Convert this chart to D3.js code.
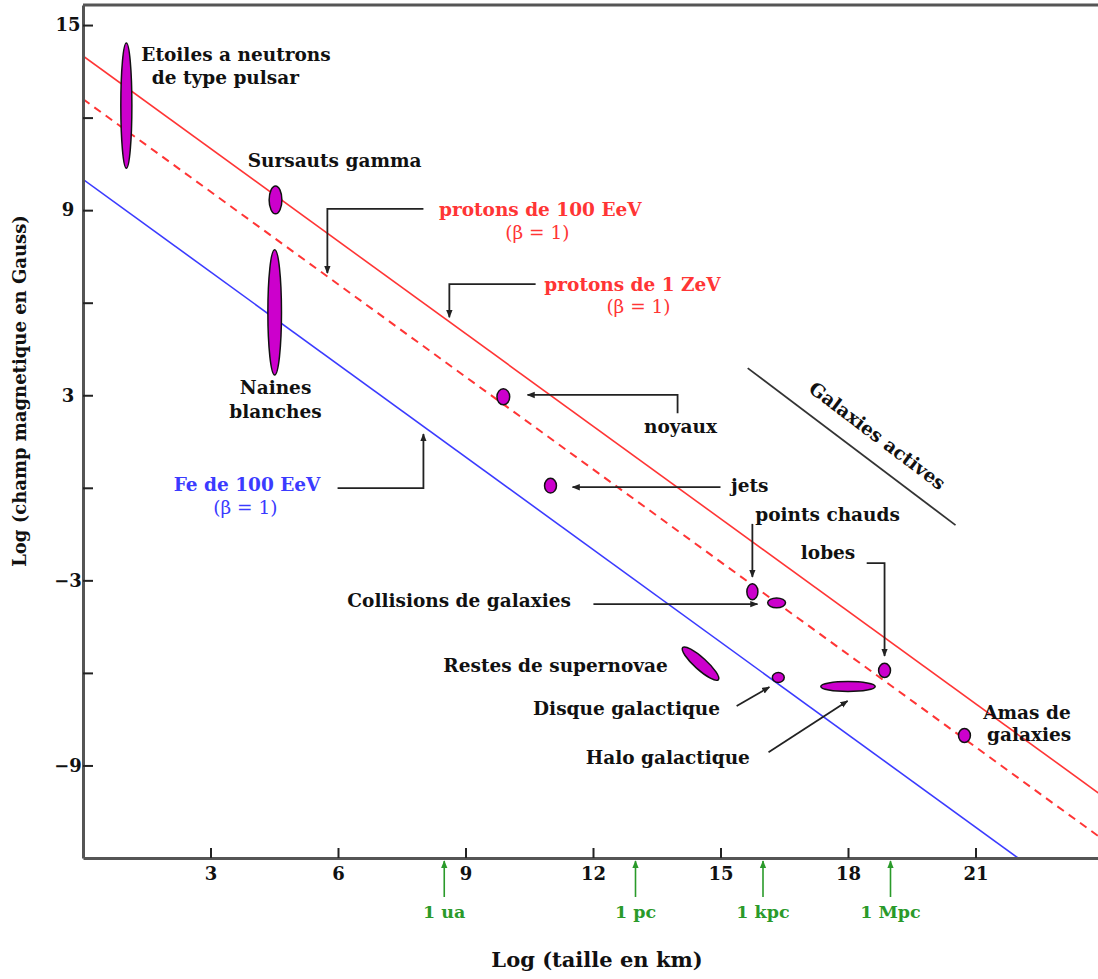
<!DOCTYPE html>
<html>
<head>
<meta charset="utf-8">
<script src="https://cdn.jsdelivr.net/npm/d3@7"></script>
<style>
body { margin: 0; background: #fff; }
text { font-family: "DejaVu Serif", serif; }
</style>
</head>
<body>
<svg id="chart" width="1098" height="979"></svg>
<script>
// Hillas plot : log(taille en km) vs log(champ en Gauss)

var xTicks = [3, 6, 9, 12, 15, 18, 21];
var yTicks = [15, 12, 9, 6, 3, 0, -3, -6, -9];
var yLabels = [15, 9, 3, -3, -9];

// limit lines B = a - L
var lineStart = [[0, 14], [0, 12.6], [0, 10]];
var lineEnd = [[24, -10], [24, -11.4], [22, -12]];
var lineKind = ["p", "pdash", "fe"];

// objects : centre and half extents (log km, log G)
var objL = [1.02, 4.53, 4.51, 9.89, 11.0, 15.75, 16.32, 14.53, 16.36, 18.0, 18.86, 20.74];
var objB = [12.39, 9.33, 5.69, 2.95, 0.07, -3.37, -3.73, -5.70, -6.15, -6.44, -5.92, -8.03];
var objDL = [0.13, 0.15, 0.16, 0.15, 0.14, 0.13, 0.21, 0.42, 0.14, 0.64, 0.14, 0.14];
var objDB = [2.03, 0.45, 2.03, 0.26, 0.24, 0.26, 0.16, 0.52, 0.16, 0.16, 0.23, 0.23];
var objTilt = [0, 0, 0, 0, 0, 0, 0, 1, 0, 0, 0, 0];

// distance units on the size axis
var unitNames = ["1 ua", "1 pc", "1 kpc", "1 Mpc"];
var unitL = [8.5, 13, 16, 19];

var labelText = ["Etoiles a neutrons", "de type pulsar", "Sursauts gamma",
	"protons de 100 EeV", "(\u03B2 = 1)", "protons de 1 ZeV", "(\u03B2 = 1)",
	"Naines", "blanches", "Fe de 100 EeV", "(\u03B2 = 1)",
	"noyaux", "jets", "points chauds", "lobes", "Collisions de galaxies",
	"Restes de supernovae", "Disque galactique", "Halo galactique",
	"Amas de", "galaxies"];
var labelL = [3.60, 3.35, 5.92, 10.76, 10.69, 12.93, 13.07, 4.53, 4.53, 3.86, 3.82,
	14.06, 15.69, 17.52, 17.53, 8.85, 11.12, 12.79, 13.76, 22.21, 22.26];
var labelB = [13.83, 13.09, 10.40, 8.81, 8.06, 6.38, 5.66, 3.04, 2.26, -0.11, -0.85,
	1.77, -0.14, -1.08, -2.31, -3.87, -5.97, -7.37, -8.95, -7.50, -8.21];
var labelKind = ["o", "o", "o", "p", "pb", "p", "pb", "o", "o", "fe", "feb",
	"o", "o", "o", "o", "o", "o", "o", "o", "o", "o"];

// leader arrows (polylines, arrow at the last point)
var leaders = [
	[[8.01, 9.04], [5.75, 9.04], [5.75, 6.96]],
	[[10.65, 6.60], [8.62, 6.60], [8.62, 5.53]],
	[[5.99, -0.01], [8.01, -0.01], [8.01, 1.74]],
	[[13.99, 2.42], [13.99, 3.01], [10.46, 3.01]],
	[[15.0, 0.02], [11.52, 0.02]],
	[[15.75, -1.17], [15.75, -2.89]],
	[[18.44, -2.44], [18.86, -2.44], [18.86, -5.45]],
	[[12.01, -3.77], [15.87, -3.77]],
	[[15.38, -7.07], [16.15, -6.46]],
	[[16.13, -8.57], [17.99, -6.91]]
];

// active galaxies band
var agnStart = [15.64, 3.88];
var agnEnd = [20.53, -1.21];

var W = 1098;
var plotLeft = 83;
var plotTop = 5;
var plotBottom = 858;

var x = d3.scaleLinear().domain([0, 24]).range([plotLeft, plotLeft + 24 * 42.5]);
var y = d3.scaleLinear().domain([-12, 15.65]).range([plotBottom, plotTop]);

var colors = { p: "#ff3535", pdash: "#ff3535", pb: "#ff3535", fe: "#3b3bff", feb: "#3b3bff", o: "#111" };

var svg = d3.select("#chart");

var defs = svg.append("defs");
defs.append("clipPath").attr("id", "plot")
	.append("rect").attr("x", plotLeft).attr("y", plotTop)
	.attr("width", W - plotLeft).attr("height", plotBottom - plotTop);

function marker(id, color)
{
	defs.append("marker").attr("id", id)
		.attr("viewBox", "0 0 10 10").attr("refX", 9).attr("refY", 5)
		.attr("markerWidth", 8).attr("markerHeight", 8)
		.attr("markerUnits", "userSpaceOnUse")
		.attr("orient", "auto")
		.append("path").attr("d", "M0,1 L10,5 L0,9 Z").attr("fill", color);
}
marker("arr", "#222");
marker("arrg", "#2a9a2a");

// limit lines
var g = svg.append("g").attr("clip-path", "url(#plot)");
for (var i = 0; i < lineStart.length; i++)
{
	g.append("line")
		.attr("x1", x(lineStart[i][0])).attr("y1", y(lineStart[i][1]))
		.attr("x2", x(lineEnd[i][0])).attr("y2", y(lineEnd[i][1]))
		.attr("stroke", colors[lineKind[i]])
		.attr("stroke-width", lineKind[i] == "pdash" ? 2 : 1.6)
		.attr("stroke-dasharray", lineKind[i] == "pdash" ? "8,6" : null);
}

// active galaxies line
svg.append("line")
	.attr("x1", x(agnStart[0])).attr("y1", y(agnStart[1]))
	.attr("x2", x(agnEnd[0])).attr("y2", y(agnEnd[1]))
	.attr("stroke", "#333").attr("stroke-width", 1.8);

// leaders
var path = d3.line().x(function(d){ return x(d[0]); }).y(function(d){ return y(d[1]); });
svg.selectAll(".leader")
	.data(leaders)
	.enter()
	.append("path")
	.attr("class", "leader")
	.attr("d", path)
	.attr("fill", "none")
	.attr("stroke", "#222")
	.attr("stroke-width", 1.8)
	.attr("marker-end", "url(#arr)");

// objects
for (var i = 0; i < objL.length; i++)
{
	if (objTilt[i])
	{
		var x1 = x(objL[i] - objDL[i]), y1 = y(objB[i] + objDB[i]);
		var x2 = x(objL[i] + objDL[i]), y2 = y(objB[i] - objDB[i]);
		var len = Math.hypot(x2 - x1, y2 - y1) / 2;
		var ang = Math.atan2(y2 - y1, x2 - x1) * 180 / Math.PI;
		svg.append("ellipse")
			.attr("transform", "translate(" + x(objL[i]) + "," + y(objB[i]) + ") rotate(" + ang + ")")
			.attr("rx", len).attr("ry", 6)
			.attr("fill", "#cc00cc").attr("stroke", "#111").attr("stroke-width", 1.5);
	}
	else
	{
		svg.append("ellipse")
			.attr("cx", x(objL[i])).attr("cy", y(objB[i]))
			.attr("rx", x(objL[i] + objDL[i]) - x(objL[i]))
			.attr("ry", y(objB[i]) - y(objB[i] + objDB[i]))
			.attr("fill", "#cc00cc").attr("stroke", "#111").attr("stroke-width", 1.5);
	}
}

// labels
for (var i = 0; i < labelText.length; i++)
{
	var k = labelKind[i];
	svg.append("text")
		.attr("x", x(labelL[i])).attr("y", y(labelB[i]))
		.attr("text-anchor", "middle")
		.attr("font-size", 18.5)
		.style("font-weight", (k == "pb" || k == "feb") ? "normal" : "bold")
		.attr("fill", colors[k])
		.text(labelText[i]);
}

// "Galaxies actives" rotated text
var agnMid = [18.67, 1.65];
var agnAngle = Math.atan2(y(agnEnd[1]) - y(agnStart[1]), x(agnEnd[0]) - x(agnStart[0])) * 180 / Math.PI;
svg.append("text")
	.attr("transform", "translate(" + x(agnMid[0]) + "," + y(agnMid[1]) + ") rotate(" + agnAngle + ")")
	.attr("text-anchor", "middle")
	.attr("dominant-baseline", "middle")
	.attr("font-size", 18.5)
	.style("font-weight", "bold")
	.attr("fill", "#111")
	.text("Galaxies actives");

// axes
var fmt = d3.format("d");
var xAxis = d3.axisBottom(x).tickValues(xTicks).tickSize(-10).tickSizeOuter(0).tickPadding(9).tickFormat(fmt);
var yAxis = d3.axisLeft(y).tickValues(yTicks).tickSize(-10).tickSizeOuter(0).tickPadding(6)
	.tickFormat(function(d){ return yLabels.indexOf(d) >= 0 ? fmt(d) : ""; });

var gx = svg.append("g").attr("transform", "translate(0," + plotBottom + ")").call(xAxis);
var gy = svg.append("g").attr("transform", "translate(" + plotLeft + ",0)").call(yAxis);
[gx, gy].forEach(function(a){
	a.select(".domain").attr("stroke", "#555").attr("stroke-width", 3);
	a.selectAll(".tick line").attr("stroke", "#222").attr("stroke-width", 2);
	a.selectAll(".tick text").attr("font-size", 18).attr("fill", "#111")
		.attr("font-family", "DejaVu Serif").style("font-weight", "bold");
});
gy.selectAll(".tick text").attr("text-anchor", "middle").attr("x", -15);

// top frame
svg.append("line")
	.attr("x1", plotLeft).attr("y1", plotTop).attr("x2", W).attr("y2", plotTop)
	.attr("stroke", "#555").attr("stroke-width", 3);

// distance units
for (var i = 0; i < unitNames.length; i++)
{
	svg.append("line")
		.attr("x1", x(unitL[i])).attr("y1", plotBottom + 39)
		.attr("x2", x(unitL[i])).attr("y2", plotBottom + 3)
		.attr("stroke", "#2a9a2a").attr("stroke-width", 1.6)
		.attr("marker-end", "url(#arrg)");
	svg.append("text")
		.attr("x", x(unitL[i])).attr("y", plotBottom + 60)
		.attr("text-anchor", "middle")
		.attr("font-size", 17.5)
		.style("font-weight", "bold")
		.attr("fill", "#2a9a2a")
		.text(unitNames[i]);
}

// axis titles
svg.append("text")
	.attr("x", 597).attr("y", 967)
	.attr("text-anchor", "middle")
	.attr("font-size", 21)
	.style("font-weight", "bold")
	.attr("fill", "#111")
	.text("Log (taille en km)");

svg.append("text")
	.attr("transform", "translate(26,391) rotate(-90)")
	.attr("text-anchor", "middle")
	.attr("font-size", 18)
	.style("font-weight", "bold")
	.attr("fill", "#111")
	.text("Log (champ magnetique en Gauss)");
</script>
</body>
</html>
